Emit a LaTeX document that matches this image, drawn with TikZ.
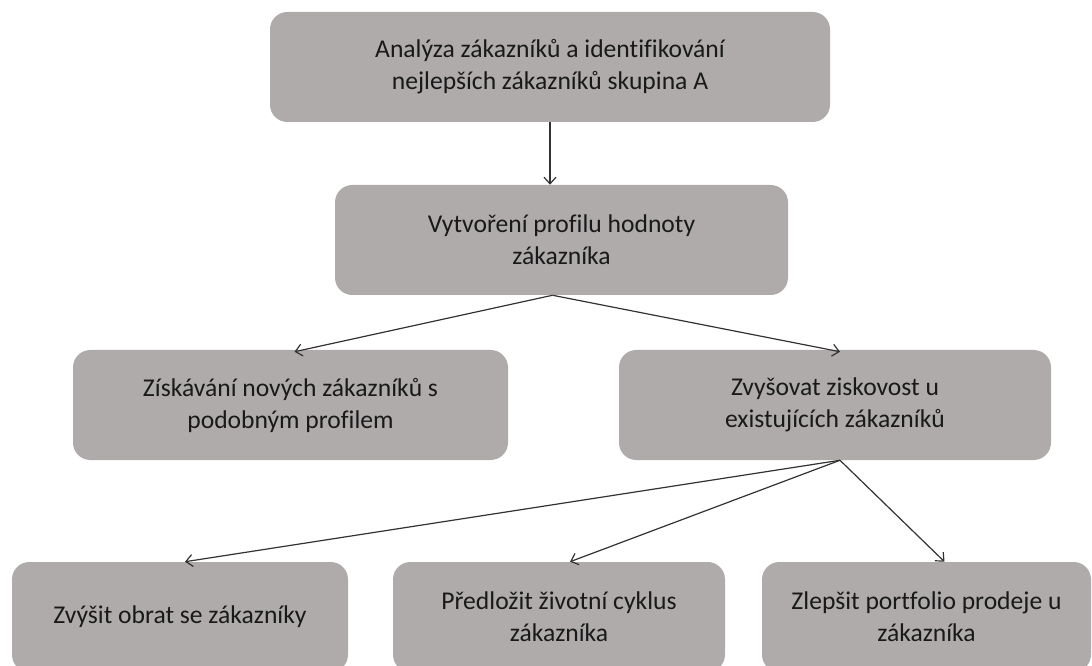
\documentclass[tikz,border=0pt]{standalone}
\usepackage{fontspec}
\setmainfont{Carlito}[Ligatures=NoCommon]
\usetikzlibrary{arrows.meta,calc}
\definecolor{boxfill}{RGB}{175,171,171}
\definecolor{linec}{RGB}{50,50,50}
\definecolor{txt}{RGB}{25,25,25}
\begin{document}
\begin{tikzpicture}[x=0.75pt,y=-0.75pt,
  box/.style={fill=boxfill, rounded corners=13pt, align=center, text=txt,
    font=\fontsize{19.2}{24}\selectfont, inner sep=0pt, minimum height=82.5pt},
  conn/.style={draw=linec, line width=0.9pt, -{Straight Barb[length=5pt,width=9pt]}}]
\useasboundingbox (0,0) rectangle (1092,666);
\clip (0,0) rectangle (1092,666);
\node[box, minimum width=420pt] (A) at (550,67) {Analýza zákazníků a identifikování\\nejlepších zákazníků skupina A};
\node[box, minimum width=339.75pt] (B) at (561.5,240) {Vytvoření profilu hodnoty\\zákazníka};
\node[box, minimum width=326.25pt] (C) at (290.5,405) {Získávání nových zákazníků s\\podobným profilem};
\node[box, minimum width=324pt] (D) at (835,405) {Zvyšovat ziskovost u\\existujících zákazníků};
\node[box, minimum width=252pt] (E) at (180,617) {Zvýšit obrat se zákazníky};
\node[box, minimum width=249pt] (F) at (559,617) {Předložit životní cyklus\\zákazníka};
\node[box, minimum width=246.75pt] (G) at (926.5,617) {Zlepšit portfolio prodeje u\\zákazníka};
\draw[conn] (A.south) -- (A.south |- B.north);
\draw[conn] ($(B.south)+(-9,0)$) -- ($(C.north)+(4,2)$);
\draw[conn] ($(B.south)+(-9,0)$) -- ($(D.north)+(5,2)$);
\draw[conn] ($(D.south)+(5,0)$) -- ($(E.north)+(5,0)$);
\draw[conn] ($(D.south)+(5,0)$) -- ($(F.north)+(11,0)$);
\draw[conn] ($(D.south)+(5,0)$) -- ($(G.north)+(18,0)$);
\end{tikzpicture}
\end{document}
